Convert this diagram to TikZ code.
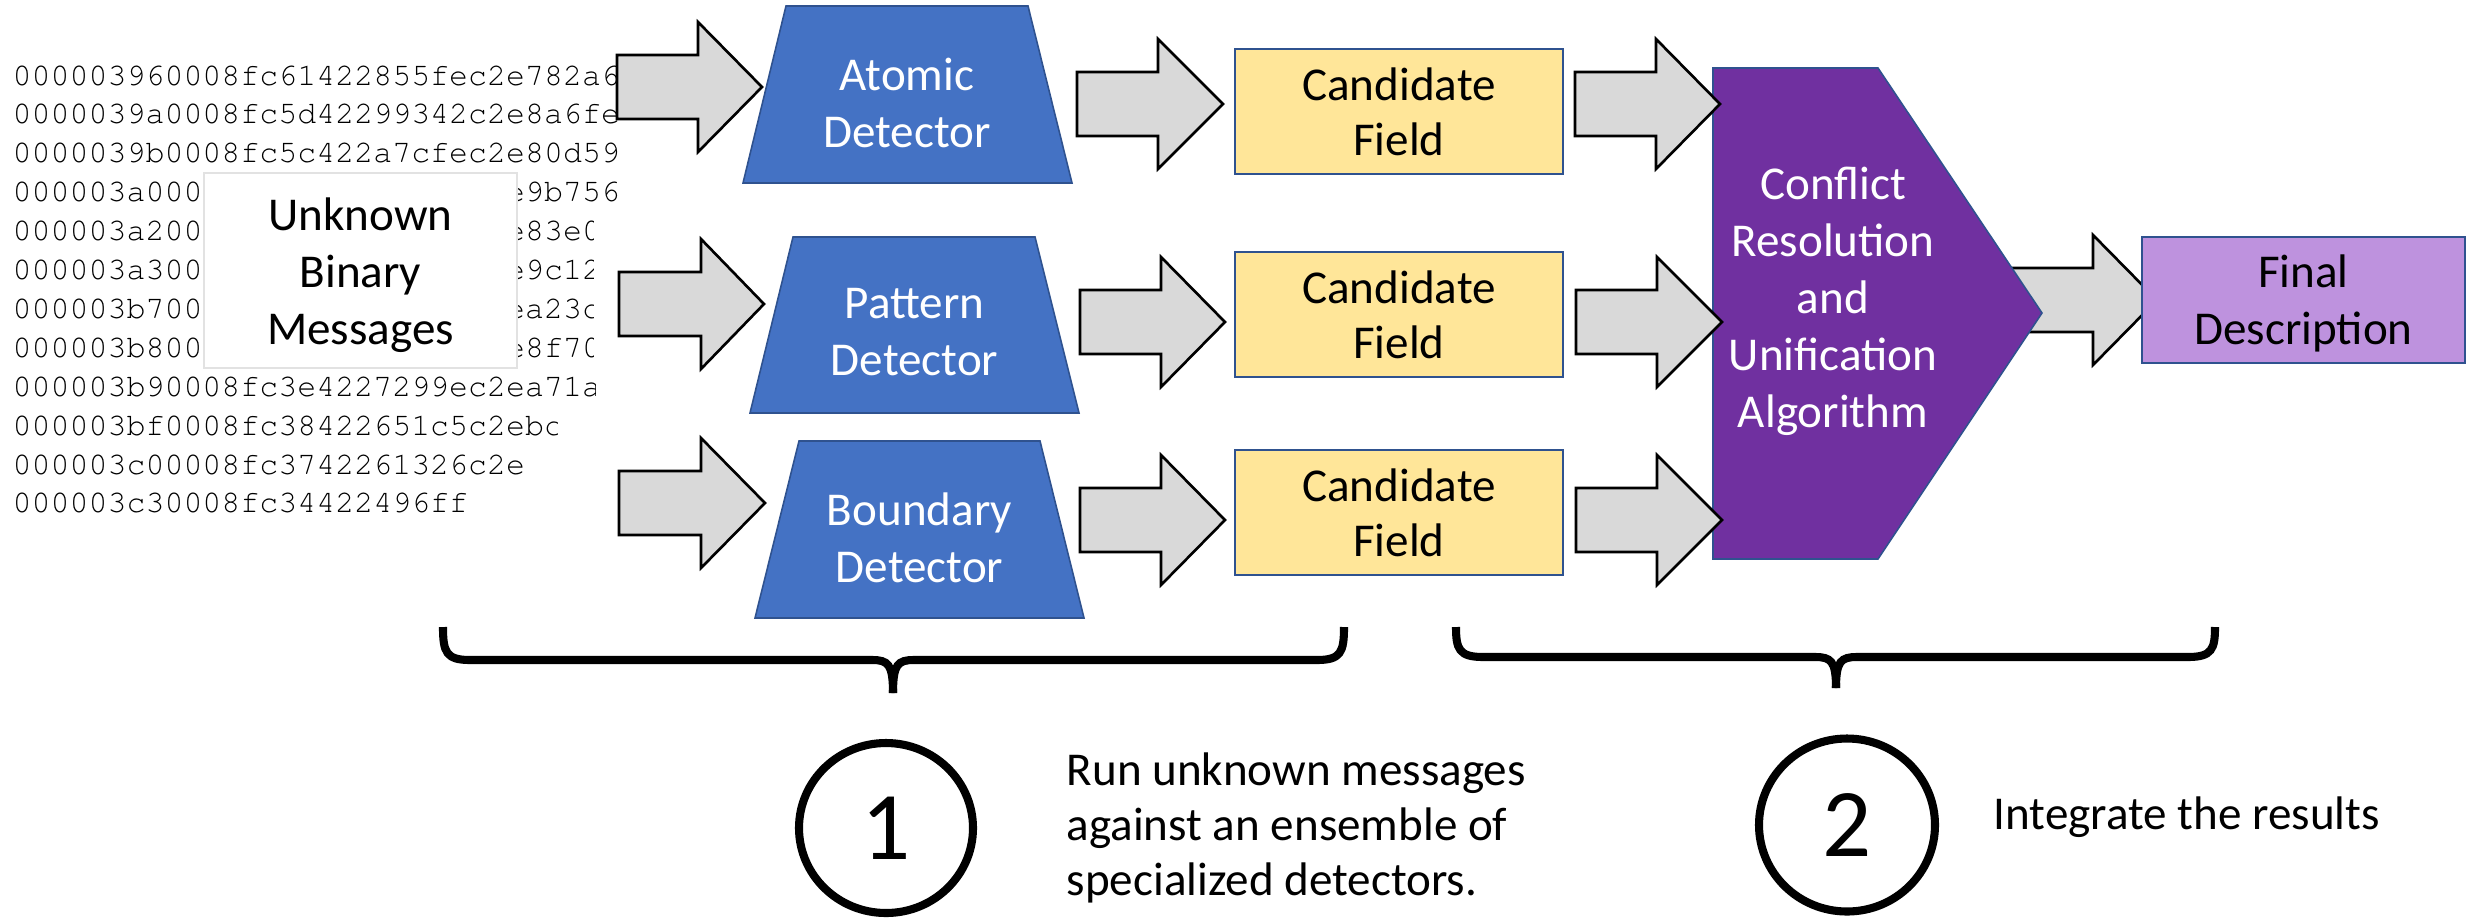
\documentclass[tikz,border=0pt]{standalone}
\usepackage{fontspec}
\setmainfont{Carlito}
\newfontfamily\hexfont[Ligatures={NoCommon,NoRequired,NoContextual}]{TeX Gyre Cursor}
\usetikzlibrary{shapes.geometric}

\definecolor{arrowgray}{HTML}{D9D9D9}
\definecolor{detblue}{HTML}{4472C4}
\definecolor{edgeblue}{HTML}{2F528F}
\definecolor{fieldyellow}{HTML}{FFE699}
\definecolor{algpurple}{HTML}{7030A0}
\definecolor{lavender}{RGB}{190,146,222}
\definecolor{boxgray}{HTML}{E2E2E2}

\tikzset{
  lbl/.style={font=\fontsize{13.4pt}{16.2pt}\selectfont, align=center, inner sep=0pt},
  hex/.style={font=\hexfont\fontsize{9pt}{9pt}\selectfont, anchor=base west, inner sep=0pt},
  blockarrow/.style={fill=arrowgray, draw=black, line width=0.75pt, line join=miter},
  detector/.style={fill=detblue, draw=edgeblue, line width=0.45pt, line join=miter},
  field/.style={lbl, font=\fontsize{13.4pt}{15.65pt}\selectfont, fill=fieldyellow, draw=edgeblue,
    line width=0.6pt, minimum width=32.8mm, minimum height=12.5mm},
  algo/.style={fill=algpurple, draw=edgeblue, line width=0.45pt, line join=miter},
  final/.style={lbl, fill=lavender, draw=edgeblue, line width=0.6pt,
    minimum width=32.3mm, minimum height=12.6mm, text depth=0pt},
  msgbox/.style={fill=white, draw=boxgray, line width=0.5pt},
  brace/.style={draw=black, line width=2.3pt},
  ring/.style={ellipse, draw=black, line width=2.3pt, inner sep=0pt,
    font=\fontsize{27.6pt}{30pt}\selectfont},
  note/.style={font=\fontsize{13.4pt}{15.65pt}\selectfont, align=left, inner sep=0pt}
}

% one line of the hex dump, clipped on the right
\newcommand\HexRow[3]{%
  \begin{scope}
    \clip (0,{85+38.9*#1-30}) rectangle (#2,{85+38.9*#1+12});
    \node[hex] (hex#1) at (12,{85+38.9*#1}) {#3};
  \end{scope}}
% right-hand remainder of a line, starting at character column 26
\newcommand\HexTail[3]{%
  \begin{scope}
    \clip (0,{85+38.9*#1-30}) rectangle (#2,{85+38.9*#1+12});
    \node[hex] (tail#1) at ({12+26*18.98},{85+38.9*#1}) {#3};
  \end{scope}}
% gray block arrow: tail x, head-base x, tip x, centre y
\newcommand\BlockArrow[4]{%
  \draw[blockarrow] (#1,#4-32) -- (#2,#4-32) -- (#2,#4-65) -- (#3,#4)
    -- (#2,#4+65) -- (#2,#4+32) -- (#1,#4+32) -- cycle;}

\begin{document}
\begin{tikzpicture}[x=0.1mm, y=-0.1mm]
\useasboundingbox (0,0) rectangle (2468,919);

% raw message dump
\HexRow{0}{700}{000003960008fc61422855fec2e782a6}
\HexRow{1}{700}{0000039a0008fc5d42299342c2e8a6fe}
\HexRow{2}{700}{0000039b0008fc5c422a7cfec2e80d59}
\HexRow{3}{700}{000003a000}
\HexTail{3}{700}{e9b756}
\HexRow{4}{700}{000003a200}
\HexTail{4}{593}{e83e0}
\HexRow{5}{700}{000003a300}
\HexTail{5}{593}{e9c12}
\HexRow{6}{700}{000003b700}
\HexTail{6}{593}{ea23c}
\HexRow{7}{700}{000003b800}
\HexTail{7}{593}{e8f70}
\HexRow{8}{595}{000003b90008fc3e4227299ec2ea71a}
\HexRow{9}{557}{000003bf0008fc38422651c5c2ebc}
\HexRow{10}{522}{000003c00008fc3742261326c2e}
\HexRow{11}{700}{000003c30008fc34422496ff}

\draw[msgbox] (204,173) rectangle (517,368);
\node[lbl] (msgs) at (360.5,275) {Unknown\\Binary\\Messages};

% messages into the detectors
\BlockArrow{617}{698}{762}{87}
\BlockArrow{619}{701}{764}{304}
\BlockArrow{619}{701}{765}{503}

% detectors
\draw[detector] (786,6) -- (1028,6) -- (1072,183) -- (743,183) -- cycle;
\node[lbl, text=white] (atomic) at (907,102.5) {Atomic\\Detector};
\draw[detector] (793,237) -- (1035,237) -- (1079,413) -- (750,413) -- cycle;
\node[lbl, text=white] (pattern) at (914.5,332.5) {Pattern\\Detector};
\draw[detector] (799,441) -- (1040,441) -- (1084,618) -- (755,618) -- cycle;
\node[lbl, text=white] (boundary) at (919.5,537.5) {Boundary\\Detector};

% detector outputs
\BlockArrow{1077}{1158}{1223}{104}
\BlockArrow{1080}{1161}{1225}{322}
\BlockArrow{1080}{1161}{1225}{520}

\node[field] (cf1) at (1399,111.5) {Candidate\\Field};
\node[field] (cf2) at (1399,314.5) {Candidate\\Field};
\node[field] (cf3) at (1399,512.5) {Candidate\\Field};

% unification stage
\BlockArrow{1990}{2093}{2157}{300}
\draw[algo] (1713,68) -- (1878,68) -- (2042,313) -- (1878,559) -- (1713,559) -- cycle;
\node[lbl, text=white] (unify) at (1833,301) {Conflict\\Resolution\\and\\Unification\\Algorithm};

\BlockArrow{1575}{1656}{1720}{104}
\BlockArrow{1576}{1657}{1722}{322}
\BlockArrow{1576}{1657}{1722}{520}

\node[final] (final) at (2303.5,300) {Final\\Description};

% brace under step 1
\draw[brace] (443,627) .. controls (443,652) and (446,660) .. (470,660) -- (872,660)
  .. controls (888,660) and (893,664) .. (893,693);
\draw[brace] (1344,627) .. controls (1344,652) and (1341,660) .. (1317,660) -- (914,660)
  .. controls (898,660) and (893,664) .. (893,693);
% brace under step 2
\draw[brace] (1456,627) .. controls (1456,649) and (1459,657) .. (1483,657) -- (1815,657)
  .. controls (1831,657) and (1836,661) .. (1836,688);
\draw[brace] (2215,627) .. controls (2215,649) and (2212,657) .. (2188,657) -- (1857,657)
  .. controls (1841,657) and (1836,661) .. (1836,688);

% step markers
\node[ring, minimum width=17.4mm, minimum height=17.0mm] (one) at (886,828) {1};
\node[ring, minimum width=17.6mm, minimum height=17.3mm] (two) at (1847,825) {2};

\node[note, anchor=north west] (stepone) at (1066,752)
  {Run unknown messages\\against an ensemble of\\specialized detectors.};
\node[note, anchor=base west] (steptwo) at (1993,829) {Integrate the results};
\end{tikzpicture}
\end{document}
